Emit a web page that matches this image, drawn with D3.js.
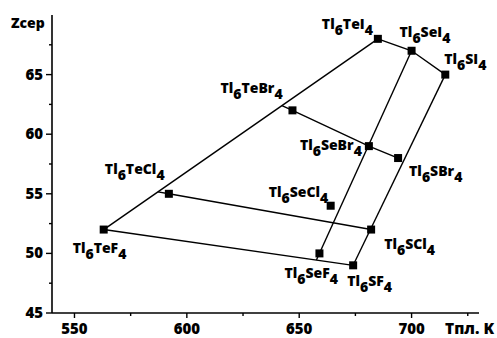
<!DOCTYPE html>
<html><head><meta charset="utf-8">
<script src="https://cdn.jsdelivr.net/npm/d3@7/dist/d3.min.js"></script>
<style>
body{margin:0;background:#fff;}
text{font-family:"Open Sans",sans-serif;font-weight:800;fill:#000;}
</style></head>
<body><svg id="c" width="497" height="338"></svg>
<script>
// Data
const chalcogens = ["Te", "Se", "S"];
const halogens = ["F", "Cl", "Br", "I"];
const tempTe = [563, 592, 647, 685];
const tempSe = [659, 664, 681, 700];
const tempS  = [674, 682, 694, 715];
const zTe = [52, 55, 62, 68];
const zSe = [50, 54, 59, 67];
const zS  = [49, 52, 58, 65];
const xTicks = [550, 600, 650, 700];
const yTicks = [45, 50, 55, 60, 65];
const xLabel = "Тпл. K";
const yLabel = "Zcep";

// label offsets (px) relative to marker: [dx, dy] for start/baseline
const labelOffsets = {
  TeF: [-31, 23], TeCl: [-64, -20], TeBr: [-72, -17], TeI: [-56, -10],
  SeF: [-35, 25], SeCl: [-62, -9], SeBr: [-69, 4], SeI: [-12, -14],
  SF: [-6, 21], SCl: [13, 19], SBr: [11, 18], SI: [-1, -11]
};

const temps = {Te: tempTe, Se: tempSe, S: tempS};
const zs = {Te: zTe, Se: zSe, S: zS};
const pts = {};
chalcogens.forEach(c => halogens.forEach((h, i) => {
  pts[c + h] = {c, h, t: temps[c][i], z: zs[c][i]};
}));

const svg = d3.select("#c");
const x = d3.scaleLinear().domain([540, 730]).range([52, 479]);
const y = d3.scaleLinear().domain([45, 70]).range([313, 15]);

function inter(a, b, c, d) {
  // intersection of line ab with line cd (data space)
  const x1=a.t,y1=a.z,x2=b.t,y2=b.z,x3=c.t,y3=c.z,x4=d.t,y4=d.z;
  const den=(x1-x2)*(y3-y4)-(y1-y2)*(x3-x4);
  const u=((x1-x3)*(y3-y4)-(y1-y3)*(x3-x4))/den;
  return {t: x1+u*(x2-x1), z: y1+u*(y2-y1)};
}
const P = pts;
const segs = [
  [P.TeF, P.TeI],
  [P.TeI, P.SeI, P.SI],
  [P.SI, P.SF],
  [P.SF, P.TeF],
  [P.SeI, inter(P.SeI, P.SeF, P.TeF, P.SF)],
  [inter(P.TeCl, P.SCl, P.TeF, P.TeI), P.TeCl, P.SCl],
  [inter(P.TeBr, P.SBr, P.TeF, P.TeI), P.TeBr, P.SeBr, P.SBr]
];
const line = d3.line().x(d => x(d.t)).y(d => y(d.z));
svg.append("g").selectAll("path").data(segs).join("path")
  .attr("d", line).attr("fill", "none").attr("stroke", "#000").attr("stroke-width", 1.4);

// axes
const ax = svg.append("g");
ax.append("line").attr("x1", x(540)).attr("x2", x(730)).attr("y1", y(45)).attr("y2", y(45))
  .attr("stroke", "#000").attr("stroke-width", 1.6);
ax.append("line").attr("x1", x(540)).attr("x2", x(540)).attr("y1", y(45)).attr("y2", y(70))
  .attr("stroke", "#000").attr("stroke-width", 1.6);
const xMinor = d3.range(550, 730, 25);
ax.selectAll(".xt").data(xMinor).join("line")
  .attr("x1", d => x(d)).attr("x2", d => x(d))
  .attr("y1", y(45)).attr("y2", d => y(45) + (d % 50 === 0 ? 5 : 3))
  .attr("stroke", "#000").attr("stroke-width", 1.4);
const yMinor = d3.range(47.5, 70, 2.5);
ax.selectAll(".yt").data([45].concat(yMinor)).join("line")
  .attr("y1", d => y(d)).attr("y2", d => y(d))
  .attr("x1", x(540)).attr("x2", d => x(540) - (d % 5 === 0 ? 6 : 3))
  .attr("stroke", "#000").attr("stroke-width", 1.4);
ax.selectAll(".xl").data(xTicks).join("text")
  .attr("x", d => x(d)).attr("y", 334).attr("text-anchor", "middle")
  .attr("font-size", 15).text(d => d);
ax.selectAll(".yl").data(yTicks).join("text")
  .attr("x", 43).attr("y", d => y(d) + 5).attr("text-anchor", "end")
  .attr("font-size", 15).text(d => d);
svg.append("text").attr("x", 11).attr("y", 28).attr("font-size", 14).text(yLabel);
svg.append("text").attr("x", 445).attr("y", 334).attr("font-size", 15.5).text(xLabel);

// markers
const all = Object.keys(pts).map(k => pts[k]);
svg.append("g").selectAll("rect").data(all).join("rect")
  .attr("x", d => x(d.t) - 4).attr("y", d => y(d.z) - 4)
  .attr("width", 8).attr("height", 8).attr("fill", "#000");

// labels
const lg = svg.append("g");
all.forEach(d => {
  const o = labelOffsets[d.c + d.h];
  const t = lg.append("text").attr("x", x(d.t) + o[0]).attr("y", y(d.z) + o[1]).attr("font-size", 14);
  t.append("tspan").text("Tl");
  t.append("tspan").attr("dy", 6).text("6");
  t.append("tspan").attr("dy", -6).text(d.c + d.h);
  t.append("tspan").attr("dy", 6).text("4");
});
</script></body></html>
